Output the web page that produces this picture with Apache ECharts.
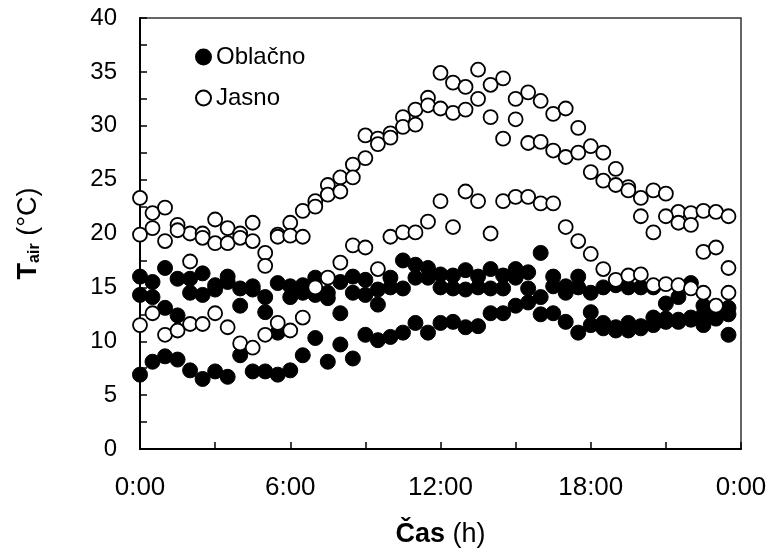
<!DOCTYPE html>
<html>
<head>
<meta charset="utf-8">
<title>Tair - Oblačno / Jasno</title>
<script src="https://cdn.jsdelivr.net/npm/echarts@6/dist/echarts.min.js"></script>
<style>
    html, body { margin: 0; padding: 0; background: #fff; }
    #chart { width: 771px; height: 556px; }
</style>
</head>
<body>
<div id="chart"></div>
<script>
/* ===================== 数据 ===================== */
// ura meritve (h)
var casUre = [0, 0.5, 1, 1.5, 2, 2.5, 3, 3.5, 4, 4.5, 5, 5.5,
    6, 6.5, 7, 7.5, 8, 8.5, 9, 9.5, 10, 10.5, 11, 11.5,
    12, 12.5, 13, 13.5, 14, 14.5, 15, 15.5, 16, 16.5, 17, 17.5,
    18, 18.5, 19, 19.5, 20, 20.5, 21, 21.5, 22, 22.5, 23, 23.5];

// Oblačno - trije dnevi (°C)
var oblacno1 = [16.0, 15.5, 16.8, 15.8, 15.8, 16.3, 15.2, 16.0, 14.9, 15.1, 14.1, 15.4,
    15.1, 15.2, 15.9, 14.0, 15.5, 16.0, 15.7, 14.8, 15.9, 17.5, 17.1, 16.8,
    16.2, 16.1, 16.6, 16.0, 16.7, 16.1, 16.7, 16.4, 18.2, 16.0, 15.1, 16.0,
    14.5, 15.0, 15.2, 15.0, 15.0, 15.0, 13.5, 14.1, 15.4, 13.3, 13.0, 13.1];
var oblacno2 = [14.3, 14.1, 13.1, 12.4, 14.5, 14.3, 14.8, 15.5, 13.3, 14.8, 12.7, 10.8,
    14.1, 14.5, 14.3, 14.5, 12.6, 14.5, 14.3, 13.4, 15.0, 14.9, 15.9, 15.9,
    15.0, 14.9, 14.8, 15.0, 14.9, 14.9, 15.9, 14.9, 14.1, 15.1, 14.5, 15.0,
    12.7, 11.7, 11.3, 11.7, 11.4, 12.2, 12.1, 12.0, 12.2, 11.5, 12.1, 10.6];
var oblacno3 = [6.9, 8.1, 8.6, 8.3, 7.3, 6.5, 7.2, 6.7, 8.7, 7.2, 7.2, 6.9,
    7.3, 8.7, 10.3, 8.1, 9.7, 8.4, 10.6, 10.1, 10.4, 10.8, 11.7, 10.8,
    11.7, 11.8, 11.3, 11.4, 12.6, 12.6, 13.3, 13.6, 12.5, 12.6, 11.8, 10.8,
    11.5, 11.2, 11.0, 11.0, 11.2, 11.5, 11.8, 11.8, 12.0, 12.5, 12.4, 12.5];

// Jasno - trije dnevi (°C)
var jasno1 = [23.3, 21.9, 22.4, 20.8, 20.0, 20.0, 21.3, 20.5, 20.0, 21.0, 18.2, 19.9,
    21.0, 22.1, 23.0, 24.5, 25.2, 26.4, 29.1, 28.8, 29.3, 30.8, 31.5, 32.6,
    34.9, 34.0, 33.6, 35.2, 33.8, 34.4, 32.5, 33.1, 32.3, 31.1, 31.6, 29.8,
    28.1, 27.5, 26.0, 24.3, 23.3, 24.0, 23.7, 22.0, 21.9, 22.1, 22.0, 21.6];
var jasno2 = [19.9, 20.5, 19.3, 20.3, 17.4, 19.6, 19.1, 19.1, 19.6, 19.3, 17.0, 19.7,
    19.8, 19.7, 22.5, 23.6, 23.9, 25.2, 27.0, 28.3, 28.9, 29.9, 30.1, 31.9,
    31.6, 31.2, 31.5, 32.5, 30.8, 28.8, 30.6, 28.4, 28.5, 27.7, 27.1, 27.5,
    25.7, 24.9, 24.5, 24.0, 21.6, 20.1, 21.6, 21.0, 20.8, 18.3, 18.7, 16.8];
var jasno3 = [11.5, 12.6, 10.6, 11.0, 11.6, 11.6, 12.6, 11.3, 9.8, 9.4, 10.6, 11.7,
    11.0, 12.2, 15.0, 15.9, 17.3, 18.9, 18.7, 16.7, 19.7, 20.1, 20.1, 21.1,
    23.0, 20.6, 23.9, 23.0, 20.0, 23.0, 23.4, 23.4, 22.8, 22.8, 20.6, 19.3,
    18.1, 16.7, 15.7, 16.1, 16.2, 15.2, 15.3, 15.2, 14.9, 14.5, 13.3, 14.5];

// oznake osi x
var xOznake = ['0:00', '6:00', '12:00', '18:00', '0:00'];
/* ===================== end ===================== */


/* ===================== pomožne funkcije ===================== */
// združi več dnevov v točke [ura, temperatura]
function tocke(dnevi) {
    var out = [];
    dnevi.forEach(function (dan) {
        for (var k = 0; k < casUre.length; k++) {
            out.push([casUre[k], dan[k]]);
        }
    });
    return out;
}
/* ===================== end ===================== */


/* ===================== graf ===================== */
var font = '"Liberation Sans", Arial, sans-serif';
var chart = echarts.init(document.getElementById('chart'), null, {renderer: 'canvas'});

var option = {
    animation: false,
    backgroundColor: '#fff',
    textStyle: {fontFamily: font, color: '#000'},

    // legenda v zgornjem levem kotu
    legend: {
        orient: 'vertical',
        left: 190,
        top: 40,
        itemGap: 17,
        itemWidth: 15,
        itemHeight: 15,
        textStyle: {fontSize: 24, color: '#000', fontFamily: font},
        data: [
            {name: 'Oblačno', icon: 'circle'},
            {name: 'Jasno', icon: 'circle'}
        ]
    },

    grid: {
        left: 140,
        top: 18,
        right: 30,
        bottom: 107,
        show: true,
        borderColor: '#333',
        borderWidth: 1.5,
        backgroundColor: 'transparent'
    },

    xAxis: {
        type: 'value',
        min: 0,
        max: 24,
        interval: 3,
        axisLine: {lineStyle: {color: '#000', width: 2}},
        axisTick: {inside: true, length: 7, lineStyle: {color: '#000', width: 1.5}},
        splitLine: {show: false},
        axisLabel: {
            margin: 26,
            fontSize: 26,
            color: '#000',
            fontFamily: font,
            formatter: function (v) {
                return v % 6 === 0 ? xOznake[v / 6] : '';
            }
        },
        name: '{b|Čas}{n| (h)}',
        nameLocation: 'middle',
        nameGap: 72,
        nameTextStyle: {
            rich: {
                b: {fontSize: 27, fontWeight: 'bold', color: '#000', fontFamily: font},
                n: {fontSize: 27, color: '#000', fontFamily: font}
            }
        }
    },

    yAxis: {
        type: 'value',
        min: 0,
        max: 40,
        interval: 2.5,
        axisLine: {show: true, lineStyle: {color: '#000', width: 2}},
        axisTick: {show: true, inside: true, length: 7, lineStyle: {color: '#000', width: 1.5}},
        splitLine: {show: false},
        axisLabel: {
            margin: 23,
            fontSize: 24,
            color: '#000',
            fontFamily: font,
            formatter: function (v) {
                return v % 5 === 0 ? String(v) : '';
            }
        },
        name: '{t|T}{s|air}{n| (°C)}',
        nameLocation: 'middle',
        nameGap: 97,
        nameTextStyle: {
            rich: {
                t: {fontSize: 27, fontWeight: 'bold', color: '#000', fontFamily: font},
                s: {fontSize: 16, fontWeight: 'bold', color: '#000', fontFamily: font, padding: [12, 0, 0, 0]},
                n: {fontSize: 27, color: '#000', fontFamily: font}
            }
        }
    },

    series: [
        {
            name: 'Oblačno',
            type: 'scatter',
            symbol: 'circle',
            symbolSize: 15,
            itemStyle: {color: '#000', borderColor: '#000', borderWidth: 1, opacity: 1},
            emphasis: {disabled: true},
            data: tocke([oblacno1, oblacno2, oblacno3])
        },
        {
            name: 'Jasno',
            type: 'scatter',
            symbol: 'circle',
            symbolSize: 14,
            itemStyle: {color: '#fff', borderColor: '#000', borderWidth: 1.8, opacity: 1},
            emphasis: {disabled: true},
            data: tocke([jasno1, jasno2, jasno3])
        }
    ]
};

chart.setOption(option);
/* ===================== end ===================== */
</script>
</body>
</html>
